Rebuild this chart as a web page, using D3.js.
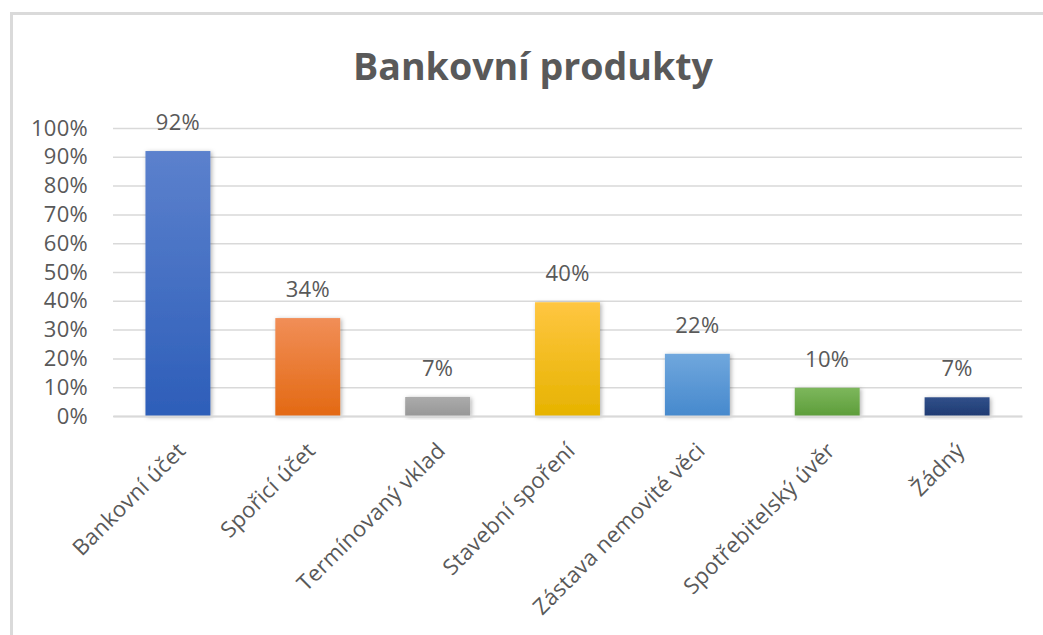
<!DOCTYPE html>
<html>
<head>
<meta charset="utf-8">
<script src="https://cdn.jsdelivr.net/npm/d3@7"></script>
<style>
  body { margin: 0; background: #fff; }
  svg text { font-family: 'Open Sans', sans-serif; fill: #595959; }
</style>
</head>
<body>
<script>
const categories = [
  'Bankovní účet',
  'Spořicí účet',
  'Termínovaný vklad',
  'Stavební spoření',
  'Zástava nemovité věci',
  'Spotřebitelský úvěr',
  'Žádný',
];
const values = [0.92, 0.34, 0.066, 0.395, 0.216, 0.098, 0.065];
const labels = ['92%', '34%', '7%', '40%', '22%', '10%', '7%'];
const yTicks = [0, 0.1, 0.2, 0.3, 0.4, 0.5, 0.6, 0.7, 0.8, 0.9, 1];
const gradients = [
  ['#5c81cd', '#2d5eb9'],
  ['#f18e57', '#e36913'],
  ['#ababab', '#979797'],
  ['#ffc641', '#e6b300'],
  ['#70a7dd', '#4689cd'],
  ['#7db75c', '#5d9d3a'],
  ['#31508a', '#1e3a72'],
];

const width = 1043;
const height = 635;
const plot = { left: 113, right: 1022, top: 128, bottom: 416 };
const fontSize = 22;

const svg = d3
  .select('body')
  .append('svg')
  .attr('width', width)
  .attr('height', height);

// frame
svg
  .append('rect')
  .attr('x', 11.5)
  .attr('y', 13.5)
  .attr('width', 1100)
  .attr('height', 700)
  .attr('fill', '#fff')
  .attr('stroke', '#dadada')
  .attr('stroke-width', 3);

const defs = svg.append('defs');
gradients.forEach((g, i) => {
  const lg = defs
    .append('linearGradient')
    .attr('id', 'grad' + i)
    .attr('x1', 0)
    .attr('y1', 0)
    .attr('x2', 0)
    .attr('y2', 1);
  lg.append('stop').attr('offset', '0%').attr('stop-color', g[0]);
  lg.append('stop').attr('offset', '100%').attr('stop-color', g[1]);
});
defs
  .append('filter')
  .attr('id', 'shadow')
  .attr('x', '-20%')
  .attr('y', '-20%')
  .attr('width', '140%')
  .attr('height', '140%')
  .append('feDropShadow')
  .attr('dx', 1.5)
  .attr('dy', 1)
  .attr('stdDeviation', 2)
  .attr('flood-color', '#000')
  .attr('flood-opacity', 0.3);

// title
svg
  .append('text')
  .attr('x', 533)
  .attr('y', 80)
  .attr('text-anchor', 'middle')
  .attr('font-size', 37)
  .attr('font-weight', 700)
  .attr('textLength', 360)
  .attr('lengthAdjust', 'spacingAndGlyphs')
  .text('Bankovní produkty');

const yScale = d3.scaleLinear().domain([0, 1]).range([plot.bottom, plot.top]);
const xScale = d3
  .scaleBand()
  .domain(categories)
  .range([plot.left, plot.right])
  .paddingInner(0.5)
  .paddingOuter(0.25);

// y axis + gridlines
const yAxis = d3
  .axisLeft(yScale)
  .tickValues(yTicks)
  .tickFormat(d3.format('.0%'))
  .tickSize(-(plot.right - plot.left))
  .tickPadding(25);

const yG = svg
  .append('g')
  .attr('transform', `translate(${plot.left},0)`)
  .call(yAxis);
yG.select('.domain').remove();
yG.selectAll('.tick line').attr('stroke', '#d9d9d9').attr('stroke-width', 1.5);
yG.selectAll('.tick text')
  .attr('font-size', fontSize)
  .attr('fill', '#595959')
  .style('letter-spacing', '0.3px')
  .style('font-family', "'Open Sans', sans-serif");

// bars
svg
  .append('g')
  .selectAll('rect')
  .data(values)
  .enter()
  .append('rect')
  .attr('x', (d, i) => xScale(categories[i]))
  .attr('y', (d) => yScale(d))
  .attr('width', xScale.bandwidth())
  .attr('height', (d) => yScale(0) - yScale(d))
  .attr('fill', (d, i) => `url(#grad${i})`)
  .attr('filter', 'url(#shadow)');

// x axis
const xAxis = d3.axisBottom(xScale).tickSize(0).tickPadding(0);
const xG = svg
  .append('g')
  .attr('transform', `translate(0,${plot.bottom})`)
  .call(xAxis);
xG.select('.domain').attr('stroke', '#d9d9d9').attr('stroke-width', 2);
xG.selectAll('.tick text')
  .attr('font-size', fontSize)
  .attr('fill', '#595959')
  .style('letter-spacing', '0.3px')
  .style('font-family', "'Open Sans', sans-serif")
  .attr('text-anchor', 'end')
  .attr('x', 0)
  .attr('y', 0)
  .attr('dy', 0)
  .attr('transform', 'translate(9,36) rotate(-45)');

// data labels
svg
  .append('g')
  .selectAll('text')
  .data(values)
  .enter()
  .append('text')
  .attr('x', (d, i) => xScale(categories[i]) + xScale.bandwidth() / 2)
  .attr('y', (d) => yScale(d) - 21)
  .attr('text-anchor', 'middle')
  .attr('font-size', fontSize)
  .style('letter-spacing', '0.3px')
  .text((d, i) => labels[i]);
</script>
</body>
</html>
